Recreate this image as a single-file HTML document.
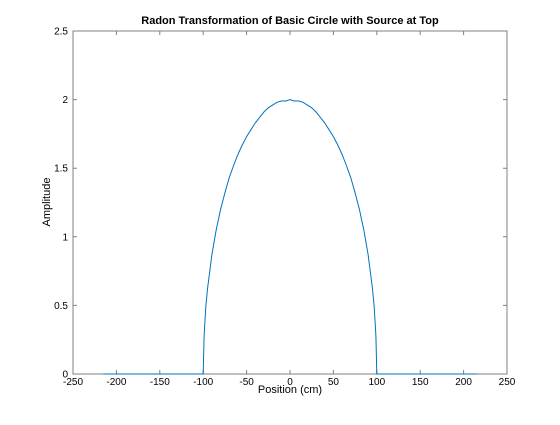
<!DOCTYPE html>
<html><head><meta charset="utf-8"><style>
body{margin:0;background:#fff;}
svg text{font-family:"Liberation Sans",sans-serif;}
</style></head><body>
<svg width="560" height="420" viewBox="0 0 560 420">
<rect x="0" y="0" width="560" height="420" fill="#fff"/>
<rect x="73" y="31" width="434" height="343" fill="#fff"/>
<g id="ticks"></g>
<rect x="73" y="31" width="434" height="343" fill="none" stroke="#808080" stroke-width="1"/>
<path id="line" fill="none" stroke="#0072BD" stroke-width="1"/>
<text x="290" y="24" text-anchor="middle" font-size="11" font-weight="bold">Radon Transformation of Basic Circle with Source at Top</text>
<text x="290" y="393" text-anchor="middle" font-size="11">Position (cm)</text>
<text transform="translate(50,202) rotate(-90)" text-anchor="middle" font-size="11">Amplitude</text>
</svg>
<script>
const positions=[-215,-100,-99,-97,-95,-90,-85,-80,-75,-70,-65,-60,-55,-50,-45,-40,-35,-30,-25,-20,-15,-10,-5,0,5,10,15,20,25,30,35,40,45,50,55,60,65,70,75,80,85,90,95,97,99,100,215];
const amplitudes=[0,0,0.28,0.49,0.62,0.87,1.05,1.2,1.32,1.43,1.52,1.6,1.67,1.73,1.78,1.83,1.87,1.91,1.94,1.96,1.98,1.99,1.99,2.0,1.99,1.99,1.98,1.96,1.94,1.91,1.87,1.83,1.78,1.73,1.67,1.6,1.52,1.43,1.32,1.2,1.05,0.87,0.62,0.49,0.28,0,0];
const xTicks=[-250,-200,-150,-100,-50,0,50,100,150,200,250];
const yTicks=[0,0.5,1,1.5,2,2.5];
const yTickLabels=["0","0.5","1","1.5","2","2.5"];
const X=v=>73+(v+250)/500*434;
const Y=v=>374-v/2.5*343;
const NS="http://www.w3.org/2000/svg";
const g=document.getElementById('ticks');
xTicks.forEach(t=>{
 const l=document.createElementNS(NS,'path');
 l.setAttribute('d',`M${X(t)},374v-4M${X(t)},31v4`);
 l.setAttribute('stroke','#808080');
 
 
 g.appendChild(l);
 const tx=document.createElementNS(NS,'text');
 tx.setAttribute('x',X(t));tx.setAttribute('y',385);
 tx.setAttribute('text-anchor','middle');tx.setAttribute('font-size','10');
 tx.textContent=t;
 
 
 g.appendChild(tx);
});
yTicks.forEach((t,i)=>{
 const l=document.createElementNS(NS,'path');
 l.setAttribute('d',`M73,${Y(t)}h4M507,${Y(t)}h-4`);
 l.setAttribute('stroke','#808080');
 
 
 g.appendChild(l);
 const tx=document.createElementNS(NS,'text');
 tx.setAttribute('x',68);tx.setAttribute('y',Y(t)+3.5);
 tx.setAttribute('text-anchor','end');tx.setAttribute('font-size','10');
 tx.textContent=yTickLabels[i];
 
 
 g.appendChild(tx);
});
document.getElementById('line').setAttribute('d',positions.map((p,i)=>(i?'L':'M')+X(p).toFixed(1)+','+Y(amplitudes[i]).toFixed(1)).join(''));
</script>
</body></html>
